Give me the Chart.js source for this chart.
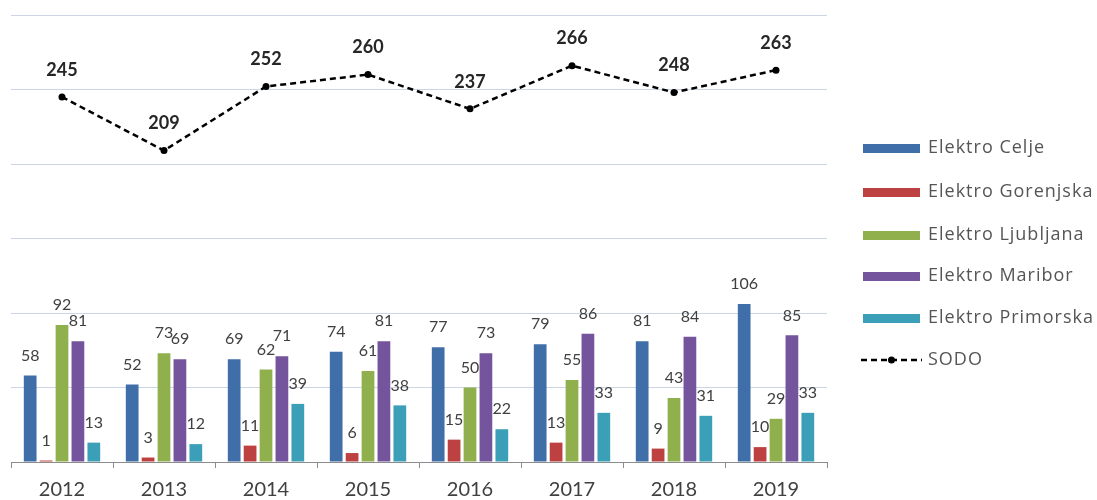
<!DOCTYPE html>
<html>
<head>
<meta charset="utf-8">
<script src="https://cdn.jsdelivr.net/npm/chart.js@4/dist/chart.umd.min.js"></script>
<style>
html,body{margin:0;padding:0;background:#fff;}
#wrap{width:1097px;height:500px;position:relative;}
</style>
</head>
<body>
<div id="wrap"><canvas id="c" width="1097" height="500"></canvas></div>
<script>
const years = ['2012','2013','2014','2015','2016','2017','2018','2019'];
const elektroCelje = [58,52,69,74,77,79,81,106];
const elektroGorenjska = [1,3,11,6,15,13,9,10];
const elektroLjubljana = [92,73,62,61,50,55,43,29];
const elektroMaribor = [81,69,71,81,73,86,84,85];
const elektroPrimorska = [13,12,39,38,22,33,31,33];
const sodo = [245,209,252,260,237,266,248,263];
const yTicks = [0,50,100,150,200,250,300];

const FONT = 'Lato, "Open Sans", sans-serif';
const LFONT = '"Open Sans", Lato, sans-serif';

const labelPlugin = {
  id: 'labels',
  afterDatasetsDraw(chart) {
    const ctx = chart.ctx;
    ctx.save();
    chart.data.datasets.forEach((ds, i) => {
      const meta = chart.getDatasetMeta(i);
      meta.data.forEach((el, j) => {
        const v = ds.data[j];
        ctx.textAlign = 'center';
        ctx.textBaseline = 'middle';
        if (ds.type === 'line') {
          ctx.font = 'bold 18px ' + FONT;
          ctx.fillStyle = '#262626';
          ctx.fillText(String(v), el.x, el.y - 27);
        } else {
          ctx.font = '16px ' + FONT;
          ctx.fillStyle = '#404040';
          ctx.fillText(String(v), el.x, el.y - 20);
        }
      });
    });
    ctx.restore();
  }
};

const legendPlugin = {
  id: 'customLegend',
  afterDraw(chart) {
    const ctx = chart.ctx;
    ctx.save();
    const x0 = 863, sw = 57, tx = 928;
    const ys = [148,192,235,276,318,360];
    chart.data.datasets.forEach((ds, i) => {
      const y = ys[i];
      if (ds.type === 'line') {
        ctx.strokeStyle = '#000';
        ctx.lineWidth = 2.5;
        ctx.setLineDash([6,4]);
        ctx.beginPath(); ctx.moveTo(x0 - 2, y); ctx.lineTo(x0 + sw + 2, y); ctx.stroke();
        ctx.setLineDash([]);
        ctx.fillStyle = '#000';
        ctx.beginPath(); ctx.arc(x0 + sw/2, y, 3.5, 0, Math.PI*2); ctx.fill();
      } else {
        ctx.fillStyle = ds.backgroundColor;
        ctx.fillRect(x0, y - 4, sw, 9);
      }
      ctx.font = '18px ' + LFONT;
      ctx.letterSpacing = '1px';
      ctx.fillStyle = '#555555';
      ctx.textAlign = 'left';
      ctx.textBaseline = 'middle';
      ctx.fillText(ds.label, tx, y);
      ctx.letterSpacing = '0px';
    });
    ctx.restore();
  }
};

const barDs = (label, data, color) => ({
  type: 'bar', label, data, backgroundColor: color, borderWidth: 0,
  categoryPercentage: 0.78, barPercentage: 0.8, order: 2
});

new Chart(document.getElementById('c'), {
  data: {
    labels: years,
    datasets: [
      barDs('Elektro Celje', elektroCelje, '#3f6ea8'),
      barDs('Elektro Gorenjska', elektroGorenjska, '#be4141'),
      barDs('Elektro Ljubljana', elektroLjubljana, '#8fb04c'),
      barDs('Elektro Maribor', elektroMaribor, '#74549c'),
      barDs('Elektro Primorska', elektroPrimorska, '#3c9fb8'),
      {
        type: 'line', label: 'SODO', data: sodo,
        borderColor: '#000', borderWidth: 2.5, borderDash: [6,4],
        pointRadius: 3.5, pointBackgroundColor: '#000', pointBorderWidth: 0,
        fill: false, tension: 0, order: 1
      }
    ]
  },
  options: {
    responsive: false,
    animation: false,
    layout: { padding: { left: 11, right: 270, top: 15, bottom: 0 } },
    plugins: { legend: { display: false }, tooltip: { enabled: false } },
    scales: {
      x: {
        offset: true,
        grid: { display: true, drawOnChartArea: false, offset: true, tickLength: 6, color: '#8c8c8c' },
        border: { display: true, color: '#8c8c8c', width: 1 },
        ticks: { font: { size: 20, family: FONT }, color: '#404040', padding: 10 },
        afterFit(s) { s.height = 38; }
      },
      y: {
        min: 0, max: 300,
        afterBuildTicks(s) { s.ticks = yTicks.map(v => ({ value: v })); },
        ticks: { display: false },
        grid: { color: '#cbd5e5', drawTicks: false, lineWidth: 1 },
        border: { display: false },
        afterFit(s) { s.width = 0; }
      }
    }
  },
  plugins: [labelPlugin, legendPlugin]
});
</script>
</body>
</html>
